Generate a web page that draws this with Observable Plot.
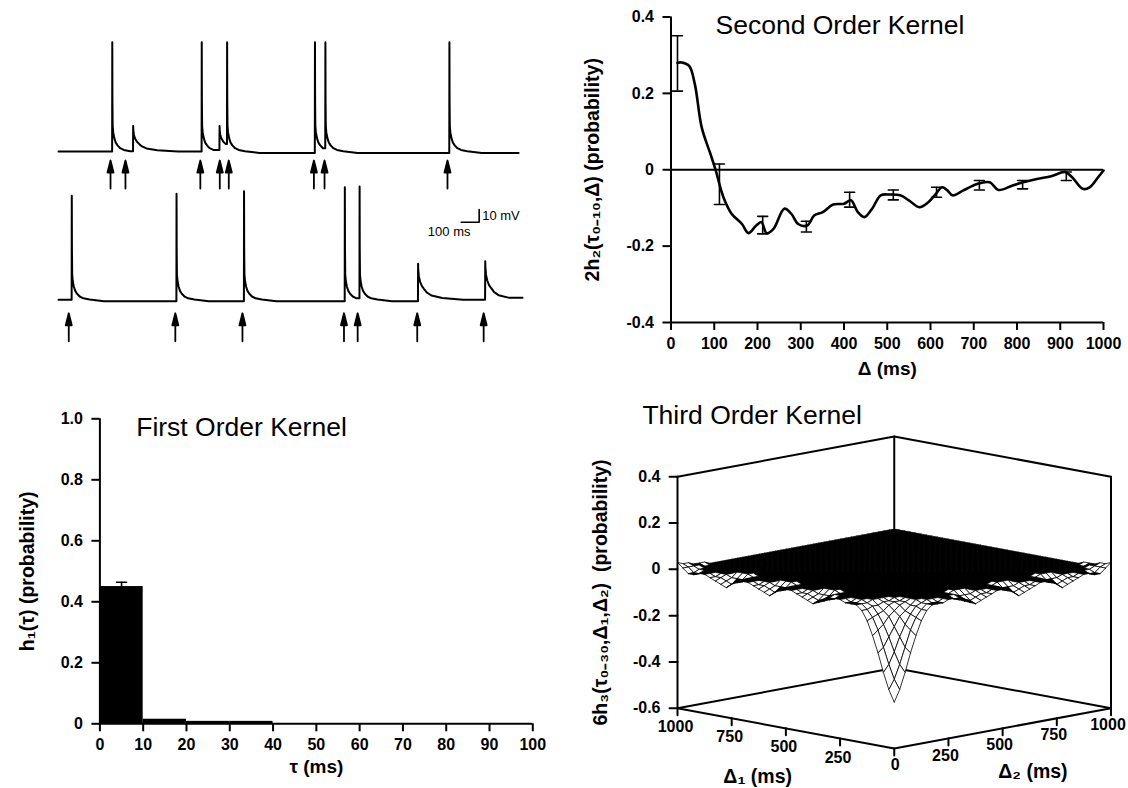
<!DOCTYPE html>
<html>
<head>
<meta charset="utf-8">
<script src="https://cdn.jsdelivr.net/npm/d3@7"></script>
<script src="https://cdn.jsdelivr.net/npm/@observablehq/plot@0.6"></script>
<style>
html,body{margin:0;padding:0;background:#fff;}
#root{position:relative;width:1128px;height:788px;overflow:hidden;background:#fff;}
#root > div{position:absolute;}
#root svg{overflow:visible;}
</style>
</head>
<body>
<div id="root"></div>
<script>
// ================= DATA =================
// Panel A: membrane potential traces (time in ms, potential in mV above rest)
const trace1Spikes = [
  {t: 298, peak: 86, kind: "ap"},
  {t: 414, peak: 20, kind: "epsp"},
  {t: 795, peak: 86, kind: "ap"},
  {t: 894, peak: 20, kind: "epsp"},
  {t: 936, peak: 86, kind: "ap"},
  {t: 1424, peak: 86, kind: "ap"},
  {t: 1482, peak: 86, kind: "ap"},
  {t: 2171, peak: 86, kind: "ap"}
];
const trace1Stimuli = [289, 372, 788, 896, 946, 1419, 1478, 2161];
const trace1End = 2556;
const trace2Spikes = [
  {t: 73, peak: 82, kind: "ap"},
  {t: 655, peak: 83.5, kind: "ap"},
  {t: 1030, peak: 85.5, kind: "ap"},
  {t: 1590, peak: 88.7, kind: "ap"},
  {t: 1672, peak: 89.2, kind: "ap"},
  {t: 1997, peak: 28.3, kind: "epsp"},
  {t: 2370, peak: 30.4, kind: "epsp"}
];
const trace2Stimuli = [57, 649, 1022, 1586, 1662, 1993, 2362];
const trace2End = 2578;
// shape after an action potential peak: [ms after onset, mV]
const apTail = [[1.6, 40], [3, 20], [6, 15], [12, 10.5], [20, 7], [30, 4.8], [45, 2.6], [65, 1.2], [100, 0.2], [180, -1.2], [450, -1.2], [900, 0]];
// shape after a subthreshold peak: [ms after onset, fraction of peak]
const epspTail = [[1.5, 0.85], [5, 0.65], [12, 0.5], [22, 0.38], [34, 0.3], [50, 0.2], [75, 0.12], [135, 0.05], [250, 0]];
const scaleBar = {t: 2337, v: 61.1, ms: 100, mV: 10};

// Panel B: second order kernel
const k2Delay = [15, 25, 42, 55, 71, 91, 103, 116, 124, 140, 164, 179, 197, 209, 221, 237, 262, 278, 294, 315, 331, 351, 375, 400, 416, 432, 447, 465, 485, 505, 530, 550, 574, 595, 611, 627, 639, 651, 676, 708, 737, 757, 790, 814, 846, 879, 911, 927, 952, 968, 988, 1000];
const k2Value = [0.28, 0.281, 0.272, 0.225, 0.111, 0.042, 0.0, -0.054, -0.08, -0.115, -0.142, -0.166, -0.146, -0.137, -0.166, -0.155, -0.102, -0.115, -0.142, -0.146, -0.12, -0.111, -0.091, -0.089, -0.08, -0.111, -0.124, -0.102, -0.067, -0.065, -0.067, -0.08, -0.098, -0.085, -0.065, -0.046, -0.054, -0.067, -0.054, -0.037, -0.033, -0.053, -0.041, -0.033, -0.024, -0.017, -0.006, -0.019, -0.05, -0.046, -0.019, -0.002];
const k2ErrDelay = [15, 112, 212, 313, 413, 514, 614, 713, 813, 914];
const k2ErrLow = [0.206, -0.091, -0.168, -0.163, -0.098, -0.079, -0.072, -0.053, -0.05, -0.028];
const k2ErrHigh = [0.351, 0.015, -0.122, -0.135, -0.059, -0.053, -0.046, -0.028, -0.028, -0.006];
const k2DelayTicks = [0, 100, 200, 300, 400, 500, 600, 700, 800, 900, 1000];
const k2ValueTicks = [0.4, 0.2, 0, -0.2, -0.4];

// Panel C: first order kernel
const k1Edges = [0, 10, 20, 30, 40, 50, 60, 70, 80, 90, 100];
const k1Values = [0.45, 0.015, 0.008, 0.008, 0, 0, 0, 0, 0, 0];
const k1ErrTau = [5];
const k1ErrLow = [0.45];
const k1ErrHigh = [0.464];
const k1TauTicks = [0, 10, 20, 30, 40, 50, 60, 70, 80, 90, 100];
const k1ValueTicks = [0, 0.2, 0.4, 0.6, 0.8, 1.0];

// Panel D: third order kernel surface, grid of delays (ms) and values (x0.01 probability)
const h3Delays = [0, 25, 50, 75, 100, 125, 150, 175, 200, 225, 250, 275, 300, 325, 350, 375, 400, 425, 450, 475, 500, 525, 550, 575, 600, 625, 650, 675, 700, 725, 750, 775, 800, 825, 850, 875, 900, 925, 950, 975, 1000];
// rows: first delay index 0..7 ; columns: second delay index 0..40 ; all other cells are flat (0)
const h3Rows = [
  "-40 -35 -28 -20 -13 -7 -3 -1 -1 -1  0 0 -1 -2 -3 -4 -3 -2 -1 0  0 -1 -2 -4 -3 -2 -1 0 0 -1  -2 -4 -3 -2 -1 0 0 -1 -1 1  3",
  "-35 -31 -25 -18 -11 -6 -3 -1 -1 -1  0 0 -1 -1 -2 -3 -2 -1 -1 0  0 -1 -1 -3 -2 -1 -1 0 0 -1  -1 -3 -2 -1 -1 0 0 -1 -1 1  2",
  "-28 -25 -20 -14 -9 -5 -2 -1 0 0  0 0 0 0 -1 -1 -1 0 0 0  0 0 -1 -1 -1 0 0 0 0 0  -1 -1 -1 0 0 0 0 0 0 1  2",
  "-20 -18 -14 -10 -6 -4 -2 0 0 0  0 0 0 0 1 1 1 0 0 0  0 0 1 1 1 0 0 0 0 0  1 1 1 0 0 0 0 0 0 1  1",
  "-13 -11 -9 -6 -4 -2 -1 0 0 0  0 0 0 0 1 1 1 0 0 0  0 0 1 1 1 0 0 0 0 0  1 1 1 0 0 0 0 0 0 0  1",
  "-7 -6 -5 -4 -2 -1 -1 0 0 0  0 0 0 0 0 0 0 0 0 0  0 0 0 0 0 0 0 0 0 0  0 0 0 0 0 0 0 0 0 0  1",
  "-3 -3 -2 -2 -1 -1 0 0 0 0  0 0 0 0 0 0 0 0 0 0  0 0 0 0 0 0 0 0 0 0  0 0 0 0 0 0 0 0 0 0  0",
  "-1 -1 -1 0 0 0 0 0 0 0  0 0 0 0 0 0 0 0 0 0  0 0 0 0 0 0 0 0 0 0  0 0 0 0 0 0 0 0 0 0  0"
];
const h3ValueTicks = [0.4, 0.2, 0, -0.2, -0.4, -0.6];
const h3DelayTicks = [250, 500, 750, 1000];
const h3ValueRange = [-0.6, 0.4];
const h3DelayRange = [0, 1000];

// ================= RENDER =================
const root = document.getElementById("root");
function place(svg, left, top) {
  const div = document.createElement("div");
  div.style.left = left + "px";
  div.style.top = top + "px";
  div.appendChild(svg);
  root.appendChild(div);
}
const FONT = "'Liberation Sans', Arial, Helvetica, sans-serif";
const baseStyle = {background: "transparent", fontFamily: FONT, fontSize: "16px", fontWeight: "bold", color: "black", overflow: "visible"};
const fmt = d => d === 0 ? "0" : d.toFixed(1);
const lineShape = {draw(ctx, l) { ctx.moveTo(0, 0); ctx.lineTo(0, -l); }};
const stimArrow = {draw(ctx, l) {
  ctx.moveTo(0, 0); ctx.lineTo(0, -l + 9);
  ctx.moveTo(0, -l); ctx.lineTo(3, -l + 12); ctx.lineTo(-3, -l + 12); ctx.closePath();
}};

function buildTrace(spikes, tEnd) {
  const pts = [{t: 0, v: 0}];
  spikes.forEach((s, i) => {
    const next = i + 1 < spikes.length ? spikes[i + 1].t : tEnd;
    const level = pts[pts.length - 1].v;
    pts.push({t: s.t, v: level});
    pts.push({t: s.t + 0.8, v: s.peak});
    const tail = s.kind === "ap" ? apTail : epspTail.map(([dt, f]) => [dt, f * s.peak]);
    for (const [dt, v] of tail) if (s.t + dt < next) pts.push({t: s.t + dt, v});
  });
  pts.push({t: tEnd, v: pts[pts.length - 1].v});
  return pts;
}
const trace1 = buildTrace(trace1Spikes, trace1End);
const trace2 = buildTrace(trace2Spikes, trace2End);
const traceX = {domain: [0, 2560], axis: null};
const traceY = {domain: [-38, 90], axis: null};

// Trace 1
place(Plot.plot({
  width: 560, height: 200, marginLeft: 58, marginRight: 41.2, marginTop: 36.7, marginBottom: 0.74,
  x: traceX, y: traceY, style: baseStyle,
  marks: [
    Plot.line(trace1, {x: "t", y: "v", strokeWidth: 2, strokeLinejoin: "round"}),
    Plot.vector(trace1Stimuli, {x: d => d, y: -7.1, length: 28, anchor: "end", shape: stimArrow, fill: "black", stroke: "black", strokeWidth: 1.8})
  ]
}), 0, 0);

// Trace 2 + scale bar
place(Plot.plot({
  width: 560, height: 200, marginLeft: 58, marginRight: 41.2, marginTop: 35, marginBottom: 2.44,
  x: traceX, y: traceY, style: baseStyle,
  marks: [
    Plot.line(trace2, {x: "t", y: "v", strokeWidth: 2, strokeLinejoin: "round"}),
    Plot.vector(trace2Stimuli, {x: d => d, y: -10.6, length: 28, anchor: "end", shape: stimArrow, fill: "black", stroke: "black", strokeWidth: 1.8}),
    Plot.line([[scaleBar.t - scaleBar.ms, scaleBar.v], [scaleBar.t, scaleBar.v], [scaleBar.t, scaleBar.v + scaleBar.mV]], {x: d => d[0], y: d => d[1], strokeWidth: 1.6}),
    Plot.text([scaleBar.mV + " mV"], {x: scaleBar.t, y: scaleBar.v + scaleBar.mV / 2, text: d => d, dx: 3, textAnchor: "start", lineAnchor: "middle", fontSize: 13, fontWeight: "normal"}),
    Plot.text([scaleBar.ms + " ms"], {x: scaleBar.t - scaleBar.ms / 2, y: scaleBar.v, text: d => d, dx: -21, dy: 10, textAnchor: "middle", lineAnchor: "middle", fontSize: 13, fontWeight: "normal"})
  ]
}), 0, 150);

// Panel B: second order kernel
const k2 = k2Delay.map((d, i) => ({d, v: k2Value[i]}));
const k2Err = k2ErrDelay.map((d, i) => ({d, lo: k2ErrLow[i], hi: k2ErrHigh[i]}));
place(Plot.plot({
  width: 568, height: 380, marginLeft: 110.5, marginRight: 25, marginTop: 16.5, marginBottom: 58,
  x: {domain: [0, 1000], axis: null}, y: {domain: [-0.4, 0.4], axis: null},
  style: baseStyle,
  marks: [
    Plot.ruleY([0], {strokeWidth: 2}),
    Plot.ruleY([-0.4], {strokeWidth: 2}),
    Plot.ruleX([0], {strokeWidth: 2}),
    Plot.axisX(k2DelayTicks, {tickSize: 8, tickPadding: 7, strokeWidth: 2, tickFormat: d => String(d), label: null}),
    Plot.axisY(k2ValueTicks, {tickSize: 8, tickPadding: 9, strokeWidth: 2, tickFormat: fmt, label: null}),
    Plot.line(k2, {x: "d", y: "v", curve: "catmull-rom", strokeWidth: 2.6, strokeLinejoin: "round"}),
    Plot.ruleX(k2Err, {x: "d", y1: "lo", y2: "hi", strokeWidth: 1.6}),
    Plot.vector(k2Err, {x: "d", y: "lo", length: 10, rotate: 90, anchor: "middle", shape: lineShape, strokeWidth: 1.6}),
    Plot.vector(k2Err, {x: "d", y: "hi", length: 10, rotate: 90, anchor: "middle", shape: lineShape, strokeWidth: 1.6}),
    Plot.text(["Second Order Kernel"], {frameAnchor: "top-left", text: d => d, dx: 44.5, dy: 16.8, textAnchor: "start", lineAnchor: "bottom", fontSize: 26.5, fontWeight: "normal"}),
    Plot.text(["2h\u2082(\u03c4\u2080\u208b\u2081\u2080,\u0394) (probability)"], {frameAnchor: "left", text: d => d, dx: -78.5, rotate: -90, textAnchor: "middle", lineAnchor: "middle", fontSize: 19.5}),
    Plot.text(["\u0394 (ms)"], {frameAnchor: "bottom", text: d => d, dy: 46.3, textAnchor: "middle", lineAnchor: "middle", fontSize: 19})
  ]
}), 560, 0);

// Panel C: first order kernel
const k1 = k1Values.map((h, i) => ({x1: k1Edges[i], x2: k1Edges[i + 1], h})).filter(d => d.h > 0);
const k1Err = k1ErrTau.map((tau, i) => ({tau, lo: k1ErrLow[i], hi: k1ErrHigh[i]}));
place(Plot.plot({
  width: 560, height: 408, marginLeft: 99.4, marginRight: 27.7, marginTop: 38.3, marginBottom: 64.7,
  x: {domain: [0, 100], axis: null}, y: {domain: [0, 1], axis: null},
  style: baseStyle,
  marks: [
    Plot.rectY(k1, {x1: "x1", x2: "x2", y1: 0, y2: "h", fill: "black"}),
    Plot.ruleX(k1Err, {x: "tau", y1: "lo", y2: "hi", strokeWidth: 1.6}),
    Plot.vector(k1Err, {x: "tau", y: "hi", length: 10, rotate: 90, anchor: "middle", shape: lineShape, strokeWidth: 1.6}),
    Plot.ruleY([0], {strokeWidth: 2}),
    Plot.ruleX([0], {strokeWidth: 2}),
    Plot.axisX(k1TauTicks, {tickSize: 8, tickPadding: 7, strokeWidth: 2, tickFormat: d => String(d), label: null}),
    Plot.axisY(k1ValueTicks, {tickSize: 8, tickPadding: 9, strokeWidth: 2, tickFormat: fmt, label: null}),
    Plot.text(["First Order Kernel"], {frameAnchor: "top-left", text: d => d, dx: 36.3, dy: 16.7, textAnchor: "start", lineAnchor: "bottom", fontSize: 26.5, fontWeight: "normal"}),
    Plot.text(["h\u2081(\u03c4) (probability)"], {frameAnchor: "left", text: d => d, dx: -72.4, rotate: -90, textAnchor: "middle", lineAnchor: "middle", fontSize: 19.5}),
    Plot.text(["\u03c4 (ms)"], {frameAnchor: "bottom", text: d => d, dy: 43.4, textAnchor: "middle", lineAnchor: "middle", fontSize: 19})
  ]
}), 0, 380);

// Panel D: third order kernel (oblique projection of the surface)
const depthRise = 0.1739 / 1000; // apparent rise per ms of depth, in probability units
const pxPerX = 433.5 / 2000, pxPerY = 231.5; // frame size of this panel / its domains
const proj = (d1, d2, v) => ({X: d2 - d1, Y: v + (d1 + d2) * depthRise});
const h3Num = h3Rows.map(s => s.trim().split(/\s+/).map(Number).map(x => x / 100));
const h3 = (i, j) => { const a = Math.min(i, j), b = Math.max(i, j); return a < h3Num.length ? h3Num[a][b] : 0; };
const n = h3Delays.length;
const quads = [];
for (let i = 0; i < n - 1; i++) for (let j = 0; j < n - 1; j++) quads.push([i, j]);
quads.sort((a, b) => (b[0] + b[1]) - (a[0] + a[1]));
const quadPts = [];
quads.forEach(([i, j], q) => {
  const corners = [[0, 0], [1, 0], [1, 1], [0, 1], [0, 0]].map(([di, dj]) => proj(h3Delays[i + di], h3Delays[j + dj], h3(i + di, j + dj)));
  // apparent (screen) area: grazing, nearly flat cells read as solid black, tilted cells as white
  let area = 0;
  for (let k = 0; k < 4; k++) {
    const a = corners[k], b = corners[k + 1];
    area += (a.X * pxPerX) * (-b.Y * pxPerY) - (b.X * pxPerX) * (-a.Y * pxPerY);
  }
  area /= 2;
  const fill = area > 15 ? "white" : "black";
  for (const c of corners) quadPts.push({q, fill, X: c.X, Y: c.Y});
});
const [lo, hi] = h3ValueRange, [d0, d1] = h3DelayRange;
const boxBack = [
  [[d1, d0, lo], [d1, d1, lo], [d0, d1, lo]],
  [[d1, d1, lo], [d1, d1, hi]],
  [[d1, d0, hi], [d1, d1, hi], [d0, d1, hi]]
];
const boxFront = [
  [[d1, d0, lo], [d1, d0, hi]],
  [[d0, d1, lo], [d0, d1, hi]],
  [[d1, d0, lo], [d0, d0, lo], [d0, d1, lo]]
];
const edgePts = edges => edges.flatMap((e, k) => e.map(([a, b, v]) => ({k, ...proj(a, b, v)})));
const floorTicks = [
  ...h3DelayTicks.map(d => ({d, p: proj(d, 0, lo), dx: -2, dy: 19})),
  {d: 0, p: proj(0, 0, lo), dx: 1, dy: 16},
  ...h3DelayTicks.map(d => ({d, p: proj(0, d, lo), dx: -3, dy: 17}))
];
place(Plot.plot({
  width: 568, height: 408, marginLeft: 117, marginRight: 17.5, marginTop: 56, marginBottom: 40,
  x: {domain: [-1000, 1000], axis: null}, y: {domain: [lo, hi + 2 * d1 * depthRise], axis: null},
  color: {type: "identity"},
  style: baseStyle,
  marks: [
    Plot.line(edgePts(boxBack), {x: "X", y: "Y", z: "k", strokeWidth: 2}),
    Plot.line(quadPts, {x: "X", y: "Y", z: "q", fill: "fill", stroke: "black", strokeWidth: 0.8, strokeLinejoin: "round"}),
    Plot.line(edgePts(boxFront), {x: "X", y: "Y", z: "k", strokeWidth: 2}),
    Plot.vector(h3ValueTicks, {x: d => proj(d1, d0, d).X, y: d => proj(d1, d0, d).Y, length: 8, rotate: -90, anchor: "start", shape: lineShape, strokeWidth: 2}),
    Plot.text(h3ValueTicks, {x: d => proj(d1, d0, d).X, y: d => proj(d1, d0, d).Y, text: fmt, dx: -17, textAnchor: "end", lineAnchor: "middle"}),
    Plot.vector(floorTicks, {x: d => d.p.X, y: d => d.p.Y, length: 7, rotate: 180, anchor: "start", shape: lineShape, strokeWidth: 2}),
    ...floorTicks.map(t => Plot.text([t], {x: d => d.p.X, y: d => d.p.Y, text: d => String(d.d), dx: t.dx, dy: t.dy, textAnchor: "middle", lineAnchor: "middle"})),
    Plot.text(["\u0394\u2081 (ms)"], {x: proj(630, 0, lo).X, y: proj(630, 0, lo).Y, text: d => d, dy: 54, textAnchor: "middle", lineAnchor: "middle", fontSize: 19.5}),
    Plot.text(["\u0394\u2082 (ms)"], {x: proj(0, 640, lo).X, y: proj(0, 640, lo).Y, text: d => d, dy: 49, textAnchor: "middle", lineAnchor: "middle", fontSize: 19.5}),
    Plot.text(["6h\u2083(\u03c4\u2080\u208b\u2083\u2080,\u0394\u2081,\u0394\u2082)\u00a0\u00a0(probability)"], {frameAnchor: "left", text: d => d, dx: -77, rotate: -90, textAnchor: "middle", lineAnchor: "middle", fontSize: 19.5}),
    Plot.text(["Third Order Kernel"], {frameAnchor: "top-left", text: d => d, dx: -35.1, dy: -12.7, textAnchor: "start", lineAnchor: "bottom", fontSize: 26.5, fontWeight: "normal"})
  ]
}), 560, 380);
</script>
</body>
</html>
